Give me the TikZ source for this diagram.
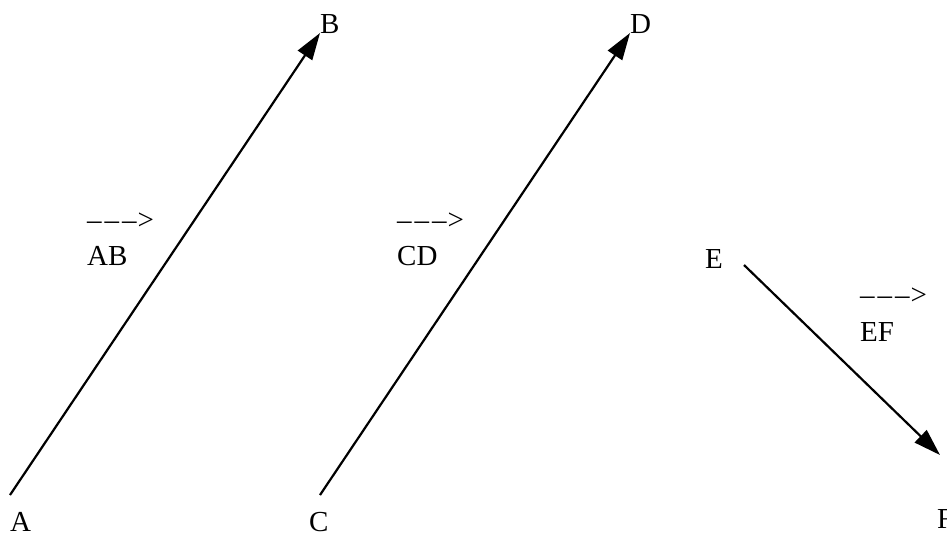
\documentclass[tikz,border=0pt]{standalone}
\usepackage{fontspec}
\setmainfont{Liberation Serif}
\usetikzlibrary{arrows.meta}
\newcommand{\dasharr}{–\kern3pt–\kern3pt–\kern1pt>}
\begin{document}
\begin{tikzpicture}[x=1pt,y=-1pt,
  lbl/.style={inner sep=0pt,anchor=base west,font=\fontsize{29}{35}\selectfont},
  vec/.style={line width=2.2pt,-{Triangle[length=27pt,width=17pt]}}]
\useasboundingbox (0,0) rectangle (947,536);
% line end points
\coordinate (pa) at (10,495);
\coordinate (pb) at (320,33);
\coordinate (pc) at (320,495);
\coordinate (pd) at (630,33);
\coordinate (pe) at (744,265);
\coordinate (pf) at (940,455);
% point labels
\node[lbl] (A) at (10,531) {A};
\node[lbl] (B) at (320,33) {B};
\node[lbl] (C) at (309,531) {C};
\node[lbl] (D) at (630,33) {D};
\node[lbl] (E) at (705,268) {E};
\node[lbl] (F) at (937,528) {F};
% vector labels
\node[lbl] (ABarr) at (87,229) {\dasharr};
\node[lbl] (AB) at (87,265) {AB};
\node[lbl] (CDarr) at (397,229) {\dasharr};
\node[lbl] (CD) at (397,265) {CD};
\node[lbl] (EFarr) at (860,304) {\dasharr};
\node[lbl] (EF) at (860,341) {EF};
% vectors
\draw[vec] (pa) -- (pb);
\draw[vec] (pc) -- (pd);
\draw[vec] (pe) -- (pf);
\end{tikzpicture}
\end{document}
